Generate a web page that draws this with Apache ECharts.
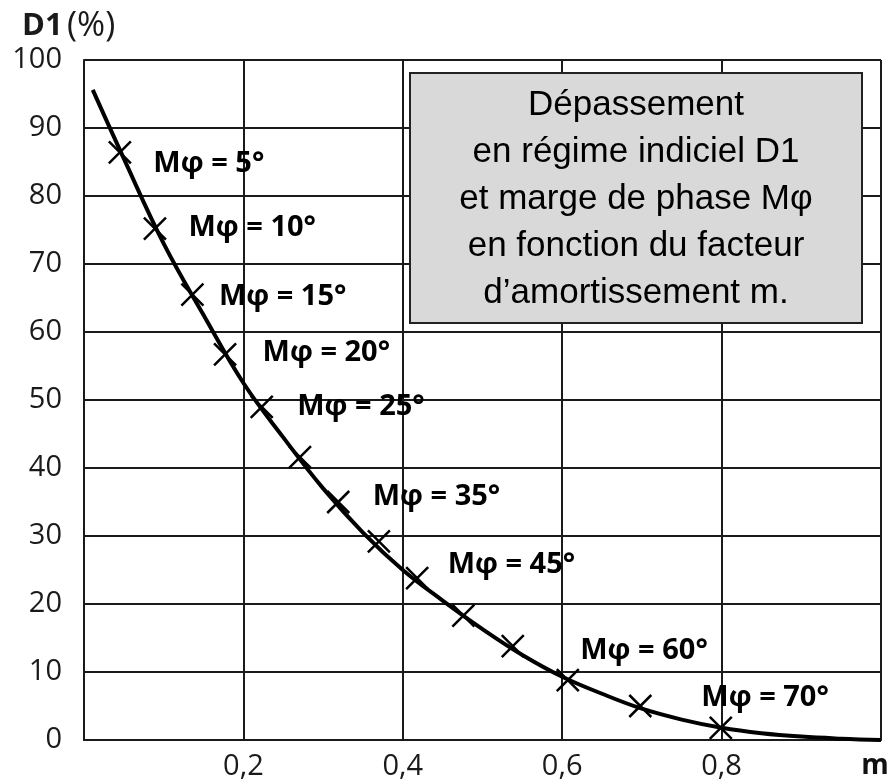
<!DOCTYPE html>
<html>
<head>
<meta charset="utf-8">
<script src="https://cdn.jsdelivr.net/npm/echarts@6/dist/echarts.min.js"></script>
<style>
  html, body { margin: 0; padding: 0; background: #fff; }
  #main { width: 893px; height: 781px; }
</style>
</head>
<body>
<div id="main"></div>
<script>
// courbe D1(m)
var curveM = [0.011, 0.05, 0.1, 0.15, 0.2, 0.25, 0.3, 0.35, 0.4, 0.45, 0.5, 0.55, 0.6, 0.65, 0.7, 0.75, 0.8, 0.85, 0.9, 0.95, 1.0];
var curveD = [95.6, 85.5, 73, 62.5, 52.5, 44.5, 37, 30.5, 25, 20.5, 16.3, 12.5, 9.3, 6.8, 4.6, 3.0, 1.8, 1.0, 0.5, 0.2, 0];

// croix : marge de phase tous les 5 degres
var markM = [0.045, 0.089, 0.136, 0.177, 0.223, 0.271, 0.319, 0.370, 0.418, 0.476, 0.538, 0.607, 0.698, 0.799];
var markD = [86.4, 75.2, 65.5, 56.7, 49.0, 41.6, 35.0, 29.2, 23.8, 18.3, 13.8, 8.8, 5.0, 1.8];
var markPhase = [5, 10, 15, 20, 25, 30, 35, 40, 45, 50, 55, 60, 65, 70];
var labelledPhase = [5, 10, 15, 20, 25, 35, 45, 60, 70];

var xTicks = [0.2, 0.4, 0.6, 0.8];
var yTicks = [0, 10, 20, 30, 40, 50, 60, 70, 80, 90, 100];

var titleLines = ['Dépassement', 'en régime indiciel D1', 'et marge de phase Mφ', 'en fonction du facteur', 'd\u2019amortissement m.'];

// decalage des etiquettes (px)
var labelOffsets = {
  5: [20, 11], 10: [20, -1], 15: [13, 2], 20: [24, -2], 25: [22, 0],
  35: [21, -5], 45: [17, -13], 60: [-1, -29], 70: [-33, -30]
};

var chart = echarts.init(document.getElementById('main'), null, { renderer: 'canvas' });

var lineData = [];
for (var i = 0; i < curveM.length; i++) {
  lineData.push([curveM[i], curveD[i]]);
}

var crossData = [];
for (var j = 0; j < markM.length; j++) {
  var ph = markPhase[j];
  var item = { value: [markM[j], markD[j]] };
  if (labelledPhase.indexOf(ph) >= 0) {
    item.label = {
      show: true,
      position: 'right',
      distance: 0,
      offset: labelOffsets[ph],
      formatter: 'Mφ = ' + ph + '°'
    };
  }
  crossData.push(item);
}

var gridColor = '#1a1a1a';

var option = {
  backgroundColor: '#fff',
  animation: false,
  grid: { left: 84, right: 12, top: 60, bottom: 39, containLabel: false },
  xAxis: {
    type: 'value',
    min: 0,
    max: 1,
    interval: 0.2,
    axisLine: { show: true, lineStyle: { color: gridColor, width: 2 } },
    axisTick: { show: false },
    splitLine: { show: true, lineStyle: { color: gridColor, width: 2 } },
    axisLabel: {
      margin: 12,
      fontFamily: 'Open Sans',
      fontSize: 29,
      color: '#1a1a1a',
      formatter: function (v) {
        if (Math.abs(v - 1) < 1e-6) return '{b|m}';
        for (var k = 0; k < xTicks.length; k++) {
          if (Math.abs(v - xTicks[k]) < 1e-6) return xTicks[k].toFixed(1).replace('.', ',');
        }
        return '';
      },
      rich: {
        b: { fontFamily: 'Open Sans', fontWeight: 'bold', fontSize: 28, color: '#111', padding: [0, 12, 0, 0] }
      }
    }
  },
  yAxis: {
    type: 'value',
    min: 0,
    max: 100,
    interval: 10,
    axisLine: { show: true, lineStyle: { color: gridColor, width: 2 } },
    axisTick: { show: false },
    splitLine: { show: true, lineStyle: { color: gridColor, width: 2 } },
    axisLabel: {
      margin: 22,
      fontFamily: 'Open Sans',
      fontSize: 29,
      color: '#1a1a1a',
      formatter: function (v) {
        return yTicks.indexOf(v) >= 0 ? String(v) : '';
      }
    }
  },
  series: [
    {
      type: 'line',
      data: lineData,
      smooth: 0.4,
      symbol: 'none',
      lineStyle: { color: '#000', width: 4 },
      z: 3
    },
    {
      type: 'scatter',
      data: crossData,
      symbol: 'path://M0,0L10,10M10,0L0,10',
      symbolSize: 22,
      itemStyle: { color: 'none', borderColor: '#000', borderWidth: 2.5, opacity: 1 },
      label: {
        fontFamily: 'Open Sans',
        fontWeight: 'bold',
        fontSize: 29,
        color: '#000'
      },
      z: 4
    }
  ],
  graphic: [
    {
      type: 'text',
      x: 22,
      y: 26,
      style: {
        text: 'D1',
        fontFamily: 'Open Sans',
        fontWeight: 'bold',
        fontSize: 31,
        fill: '#1a1a1a',
        verticalAlign: 'middle'
      }
    },
    {
      type: 'text',
      x: 67,
      y: 26,
      style: {
        text: '(%)',
        fontFamily: 'Open Sans',
        fontSize: 34,
        fill: '#1a1a1a',
        verticalAlign: 'middle'
      }
    },
    {
      type: 'rect',
      shape: { x: 410, y: 73, width: 452, height: 250 },
      style: { fill: '#d9d9d9', stroke: '#222', lineWidth: 2 },
      z: 10
    },
    {
      type: 'text',
      x: 636,
      y: 199,
      style: {
        text: titleLines.join('\n'),
        fontFamily: 'Liberation Sans',
        fontSize: 35,
        lineHeight: 47,
        fill: '#000',
        align: 'center',
        verticalAlign: 'middle'
      },
      z: 11
    }
  ]
};

chart.setOption(option);
</script>
</body>
</html>
